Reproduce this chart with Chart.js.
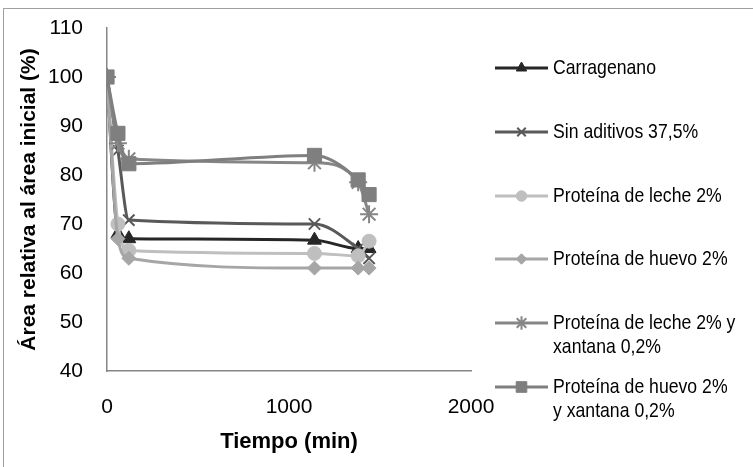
<!DOCTYPE html>
<html>
<head>
<meta charset="utf-8">
<script src="https://cdn.jsdelivr.net/npm/chart.js@4/dist/chart.umd.min.js"></script>
<style>
  html, body { margin: 0; padding: 0; background: #fff; }
  #wrap { position: relative; width: 753px; height: 467px; overflow: hidden; }
  #frame { position: absolute; left: 3px; top: 8px; width: 760px; height: 470px;
           border-left: 1px solid #a0a0a0; border-top: 1px solid #a0a0a0; }
  canvas { position: absolute; left: 0; top: 0; }
</style>
</head>
<body>
<div id="wrap">
  <div id="frame"></div>
  <canvas id="chart" width="753" height="467"></canvas>
</div>
<script>
// Tiempo (min)
const tiempo = [0, 60, 120, 1140, 1380, 1440];

const carragenano   = [100, 68, 67, 66.7, 65, 65];
const sinAditivos   = [100, 85, 70.8, 70, 65, 63];
const protLeche     = [100, 70, 64.6, 64, 63.5, 66.5];
const protHuevo     = [100, 67, 63, 61, 61, 61];
const lecheXantana  = [100, 86.5, 83.3, 82.5, 78.5, 72];
const huevoXantana  = [100, 88.5, 82.3, 84, 79, 76];

const seriesNames = [
    ['Carragenano'],
    ['Sin aditivos 37,5%'],
    ['Proteína de leche 2%'],
    ['Proteína de huevo 2%'],
    ['Proteína de leche 2% y', 'xantana 0,2%'],
    ['Proteína de huevo 2%', 'y xantana 0,2%']
];
const xTicks = [0, 1000, 2000];
const yTicks = [40, 50, 60, 70, 80, 90, 100, 110];

const FONT = "'Liberation Sans', Arial, sans-serif";

const styles = [
    { color: '#262626', point: 'triangle', r: 8 },
    { color: '#595959', point: 'crossRot', r: 8 },
    { color: '#bfbfbf', point: 'circle', r: 7 },
    { color: '#a6a6a6', point: 'rectRot', r: 7 },
    { color: '#868686', point: 'star', r: 9 },
    { color: '#7f7f7f', point: 'rect', r: 10 }
];

const allValues = [carragenano, sinAditivos, protLeche, protHuevo, lecheXantana, huevoXantana];

const datasets = allValues.map(function(vals, i) {
    const s = styles[i];
    return {
        label: seriesNames[i].join(' '),
        data: tiempo.map((t, k) => ({ x: t, y: vals[k] })),
        showLine: true,
        borderColor: s.color,
        backgroundColor: s.color,
        borderWidth: 3,
        cubicInterpolationMode: 'monotone',
        pointStyle: s.point,
        pointRadius: s.r,
        pointBorderWidth: (s.point === 'crossRot' || s.point === 'star') ? 2 : 1,
        pointBorderColor: s.color,
        pointBackgroundColor: s.color,
        order: allValues.length - i
    };
});

// Legend drawn at the right, like the original (narrow text)
const sideLegend = {
    id: 'sideLegend',
    afterDraw(chart) {
        const ctx = chart.ctx;
        const rows = [68, 132, 196, 259, 323, 387];
        const squeeze = 0.84;
        ctx.save();
        ctx.font = '21px ' + FONT;
        ctx.textBaseline = 'middle';
        ctx.textAlign = 'left';
        rows.forEach(function(y, i) {
            const s = styles[i];
            ctx.strokeStyle = s.color;
            ctx.lineWidth = 3;
            ctx.beginPath();
            ctx.moveTo(495, y);
            ctx.lineTo(548, y);
            ctx.stroke();
            ctx.fillStyle = s.color;
            ctx.lineWidth = (s.point === 'crossRot' || s.point === 'star') ? 2 : 1;
            Chart.helpers.drawPoint(ctx, { pointStyle: s.point, radius: s.r * 0.75, borderWidth: ctx.lineWidth, rotation: 0 }, 521.5, y);
            ctx.fillStyle = '#000';
            seriesNames[i].forEach(function(line, j) {
                ctx.save();
                ctx.scale(squeeze, 1);
                ctx.fillText(line, 553 / squeeze, y + j * 24);
                ctx.restore();
            });
        });
        ctx.restore();
    }
};

new Chart(document.getElementById('chart'), {
    type: 'scatter',
    data: { datasets: datasets },
    plugins: [sideLegend],
    options: {
        responsive: false,
        animation: false,
        layout: { padding: { left: 0, top: 28, right: 282, bottom: 0 } },
        plugins: { legend: { display: false }, tooltip: { enabled: false } },
        scales: {
            x: {
                type: 'linear',
                min: 0, max: 2000,
                afterBuildTicks: s => { s.ticks = xTicks.map(v => ({ value: v })); },
                afterFit: s => { s.height = 96; s.paddingLeft = 0; s.paddingRight = 0; },
                grid: { display: false, drawTicks: false },
                border: { display: true, color: '#868686', width: 1.5 },
                ticks: { color: '#000', font: { family: FONT, size: 21 }, padding: 24, callback: v => String(v) },
                title: {
                    display: true, text: 'Tiempo (min)', color: '#000',
                    font: { family: FONT, size: 22, weight: 'bold' },
                    padding: { top: 0, bottom: 12 }
                }
            },
            y: {
                min: 40, max: 110,
                afterBuildTicks: s => { s.ticks = yTicks.map(v => ({ value: v })); },
                afterFit: s => { s.width = 107; s.paddingTop = 0; s.paddingBottom = 0; },
                grid: { display: false, drawTicks: false },
                border: { display: true, color: '#868686', width: 1.5 },
                ticks: { color: '#000', font: { family: FONT, size: 21 }, padding: 24, callback: v => String(v) },
                title: {
                    display: true, text: 'Área relativa al área inicial (%)', color: '#000',
                    font: { family: FONT, size: 21, weight: 'bold' },
                    padding: { top: 17, bottom: 0 }
                }
            }
        }
    }
});
</script>
</body>
</html>
